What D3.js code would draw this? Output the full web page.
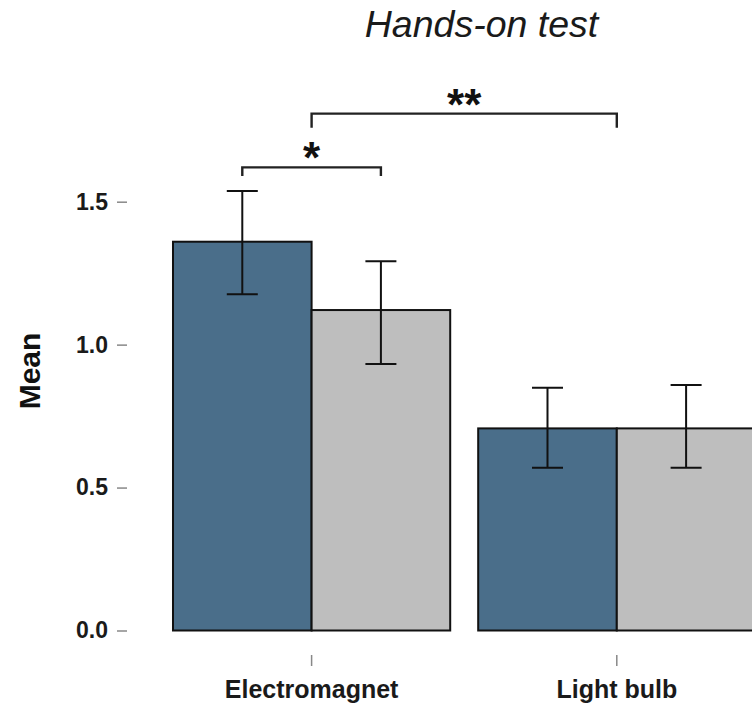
<!DOCTYPE html>
<html>
<head>
<meta charset="utf-8">
<script src="https://cdn.jsdelivr.net/npm/d3@7"></script>
<style>
  body { margin: 0; background: #fff; }
  svg { display: block; font-family: "Liberation Sans", Arial, sans-serif; }
</style>
</head>
<body>
<svg id="chart"></svg>
<script>
// chart values
var categories = ["Electromagnet", "Light bulb"];
var seriesKeys = ["A", "B"];
var meanA = [1.36, 0.707];
var meanB = [1.121, 0.707];
var lowerA = [1.176, 0.569];
var upperA = [1.537, 0.849];
var lowerB = [0.932, 0.569];
var upperB = [1.292, 0.859];
var yTicks = [0, 0.5, 1.0, 1.5];

// significance brackets: endpoints are category (+ optional series)
var brackets = [
  { from: ["Electromagnet", "A"], to: ["Electromagnet", "B"], top: 1.62, bottom: 1.59, label: "*" },
  { from: ["Electromagnet", null], to: ["Light bulb", null], top: 1.808, bottom: 1.759, label: "**" }
];

var w = 752, h = 706;
var svg = d3.select("#chart").attr("width", w).attr("height", h);

var fills = { A: "#4a6e8a", B: "#bebebe" };

//Build the rows the bars are drawn from.
var rows = [];
categories.forEach((c, i) => {
  rows.push({ cat: c, key: "A", mean: meanA[i], lo: lowerA[i], hi: upperA[i] });
  rows.push({ cat: c, key: "B", mean: meanB[i], lo: lowerB[i], hi: upperB[i] });
});

//Group scale: one step is 305.2px, bars fill 277px of it.
var x = d3.scaleBand()
  .domain(categories)
  .range([159, 769.4])
  .paddingInner(0.0917)
  .paddingOuter(0.0917 / 2);

var xs = d3.scaleBand()
  .domain(seriesKeys)
  .range([0, x.bandwidth()]);

var y = d3.scaleLinear()
  .domain([0, 1.5])
  .range([630.5, 201.7]);

function cx(cat, key) {
  if (key == null) return x(cat) + x.bandwidth() / 2;
  return x(cat) + xs(key) + xs.bandwidth() / 2;
}

//Title
svg.append("text")
  .attr("x", 481.5)
  .attr("y", 37)
  .attr("text-anchor", "middle")
  .attr("font-size", 37.5)
  .attr("font-style", "italic")
  .attr("fill", "#1a1a1a")
  .text("Hands-on test");

//Bars
svg.append("g")
  .selectAll("rect")
  .data(rows)
  .enter().append("rect")
    .attr("x", d => x(d.cat) + xs(d.key))
    .attr("y", d => y(d.mean))
    .attr("width", xs.bandwidth())
    .attr("height", d => y(0) - y(d.mean))
    .attr("fill", d => fills[d.key])
    .attr("stroke", "#111")
    .attr("stroke-width", 2);

//Error bars
var err = svg.append("g")
  .attr("stroke", "#111")
  .attr("stroke-width", 2)
  .attr("fill", "none");

err.selectAll("path")
  .data(rows)
  .enter().append("path")
    .attr("d", d => {
      var c = cx(d.cat, d.key), t = y(d.hi), b = y(d.lo);
      return "M" + (c - 15.5) + "," + t + "H" + (c + 15.5) +
             "M" + c + "," + t + "V" + b +
             "M" + (c - 15.5) + "," + b + "H" + (c + 15.5);
    });

//Significance brackets
var sig = svg.append("g");

sig.selectAll("path")
  .data(brackets)
  .enter().append("path")
    .attr("fill", "none")
    .attr("stroke", "#222")
    .attr("stroke-width", 2.4)
    .attr("d", d => {
      var x1 = cx(d.from[0], d.from[1]), x2 = cx(d.to[0], d.to[1]);
      return "M" + x1 + "," + y(d.bottom) + "V" + y(d.top) +
             "H" + x2 + "V" + y(d.bottom);
    });

sig.selectAll("text")
  .data(brackets)
  .enter().append("text")
    .attr("x", d => (cx(d.from[0], d.from[1]) + cx(d.to[0], d.to[1])) / 2)
    .attr("y", d => y(d.top) - 2)
    .attr("text-anchor", "middle")
    .attr("font-size", 44)
    .attr("font-weight", "bold")
    .attr("fill", "#111")
    .attr("dy", "0.18em")
    .text(d => d.label);

//Y axis
var yAxis = svg.append("g")
  .attr("transform", "translate(127,0)")
  .call(d3.axisLeft(y).tickValues(yTicks).tickFormat(d3.format(".1f")).tickSize(10).tickPadding(9));
yAxis.select(".domain").remove();
yAxis.selectAll("line").attr("stroke", "#888").attr("stroke-width", 1.5);
yAxis.selectAll("text")
  .attr("font-family", "Liberation Sans, Arial, sans-serif")
  .attr("font-size", 23)
  .attr("font-weight", "bold")
  .attr("fill", "#1a1a1a");

//X axis
var xAxis = svg.append("g")
  .attr("transform", "translate(0,655)")
  .call(d3.axisBottom(x).tickSize(11).tickPadding(14));
xAxis.select(".domain").remove();
xAxis.selectAll("line").attr("stroke", "#888").attr("stroke-width", 1.5);
xAxis.selectAll("text")
  .attr("font-family", "Liberation Sans, Arial, sans-serif")
  .attr("font-size", 25)
  .attr("font-weight", "bold")
  .attr("fill", "#1a1a1a");

//Y axis label
svg.append("text")
  .attr("transform", "translate(40,371) rotate(-90)")
  .attr("text-anchor", "middle")
  .attr("font-size", 30)
  .attr("font-weight", "bold")
  .attr("fill", "#111")
  .text("Mean");
</script>
</body>
</html>
